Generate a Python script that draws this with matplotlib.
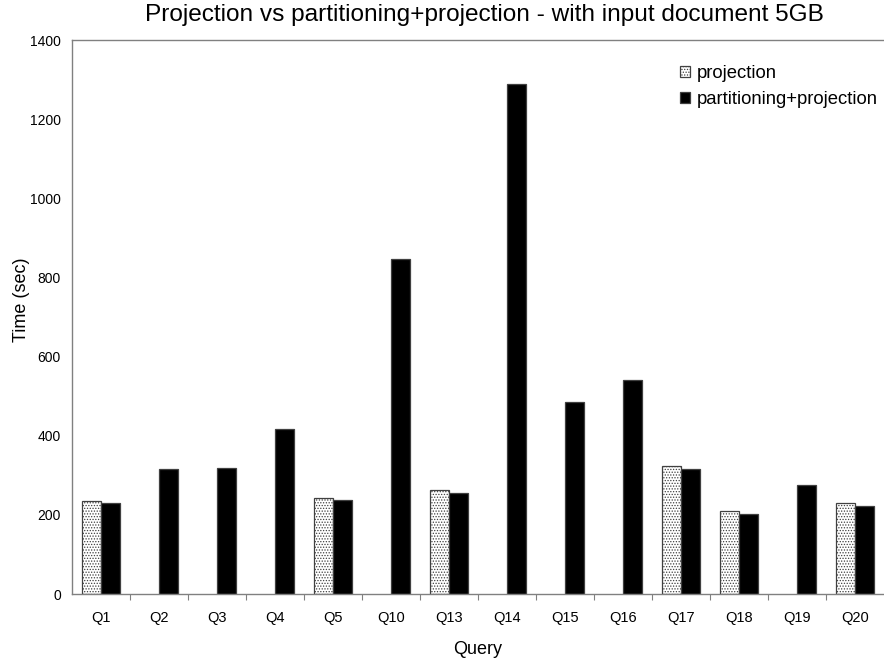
import matplotlib
matplotlib.use("Agg")
import matplotlib.pyplot as plt
import numpy as np

queries = ["Q1", "Q2", "Q3", "Q4", "Q5", "Q10", "Q13", "Q14", "Q15", "Q16", "Q17", "Q18", "Q19", "Q20"]
projection = [236, 0, 0, 0, 243, 0, 264, 0, 0, 0, 324, 209, 0, 230]
partitioning = [231, 317, 319, 416, 237, 846, 255, 1290, 486, 542, 316, 203, 276, 222]

plt.rcParams["font.family"] = ["Liberation Sans", "DejaVu Sans"]
plt.rcParams["hatch.color"] = "#707070"
plt.rcParams["hatch.linewidth"] = 0.6

W, H = 884, 662
fig = plt.figure(figsize=(W / 100, H / 100), dpi=100)
ax = fig.add_axes([72 / W, 68 / H, 812 / W, 554 / H])

x = np.arange(len(queries))
w = 0.335
proj = np.array(projection, dtype=float)
mask = proj > 0
ax.bar(x[mask] - w / 2, proj[mask], w, color="white", edgecolor="#404040",
       hatch="......", linewidth=0.9, label="projection")
ax.bar(x + w / 2, partitioning, w, color="black", edgecolor="#404040",
       linewidth=0.9, label="partitioning+projection")

ax.set_xlim(-0.5, len(queries) - 0.5)
ax.set_ylim(0, 1400)
ax.set_yticks(np.arange(0, 1401, 200))
ax.set_xticks(x)
ax.set_xticklabels(queries)
ax.set_xticks(np.arange(0.5, len(queries) - 0.5, 1), minor=True)
ax.tick_params(axis="x", which="major", length=0, pad=12, labelsize=10.5)
ax.tick_params(axis="x", which="minor", length=4, color="#808080", width=0.8)
ax.tick_params(axis="y", length=0, pad=8, labelsize=10)

for s in ["left", "bottom", "top"]:
    ax.spines[s].set_color("#808080")
    ax.spines[s].set_linewidth(1.0)
ax.spines["right"].set_visible(False)

fig.text(0.5 + 36 / W, 1 - 650 / H, "Query", fontsize=13, ha="center", va="center")
fig.text(21 / W, 1 - 300 / H, "Time (sec)", fontsize=13, rotation=90,
         ha="center", va="center")
fig.text(484 / W, 1 - 15 / H,
         "Projection vs partitioning+projection - with input document 5GB",
         fontsize=17.6, ha="center", va="center")

ax.legend(loc="upper left", bbox_to_anchor=(680 / W, 1 - 65 / H),
          bbox_transform=fig.transFigure, frameon=False, fontsize=13.3,
          handlelength=0.55, handleheight=0.55, handletextpad=0.35, labelspacing=0.5,
          borderaxespad=0, borderpad=0)

fig.savefig("out.png", dpi=100)
